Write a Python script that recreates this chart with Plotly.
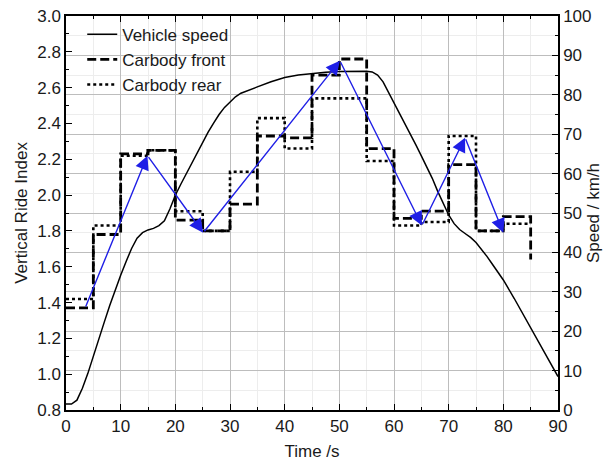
import plotly.graph_objects as go

# Vehicle speed over time (km/h)
speed_t = [0, 1, 2, 3, 4, 5, 6, 7, 8, 9, 10, 11, 12, 13, 14, 15, 16, 17, 18, 19, 20,
           21, 22, 23, 24, 25, 26, 27, 28, 29, 30, 31, 32, 33, 34, 35, 37.5, 40, 42.5,
           45, 47.5, 50, 52.5, 55, 56, 57, 58, 59, 60, 61, 62, 63, 64, 65, 66, 67, 68,
           69, 70, 71, 72, 73, 74, 75, 76, 77, 78, 79, 80, 82, 84, 86, 88, 90]
speed_v = [1.5, 1.5, 2.5, 5.5, 9.3, 13.8, 18, 22.3, 26.5, 30.5, 34.2, 37.7, 41, 43.6, 45,
           45.7, 46.1, 46.8, 48, 51, 54.5, 57.3, 60, 62.7, 65.4, 68, 70.5, 72.8, 75, 76.8,
           78.2, 79.5, 80.4, 81, 81.5, 82, 83.3, 84.4, 85, 85.4, 85.7, 85.9, 86, 86, 85.8,
           85, 83.3, 80.7, 78, 75.5, 72.8, 70.2, 67.3, 64.5, 61.8, 58.8, 55.5, 52.3, 49.5,
           47.3, 45.8, 44.8, 43.8, 42.5, 40.8, 39, 37, 35, 33, 28.3, 23.3, 18.5, 13.5, 8.5]

# Ride index evaluated over 5 s windows
window_t = [0, 5, 10, 15, 20, 25, 30, 35, 40, 45, 50, 55, 60, 65, 70, 75, 80, 85]
front_idx = [1.37, 1.78, 2.23, 2.25, 1.86, 1.80, 1.95, 2.33, 2.32, 2.67, 2.76, 2.26,
             1.87, 1.91, 2.17, 1.80, 1.88, 1.64]
rear_idx = [1.42, 1.83, 2.22, 2.25, 1.91, 1.80, 2.13, 2.43, 2.26, 2.54, 2.54, 2.19,
            1.83, 1.85, 2.33, 1.80, 1.84, 1.84]

# Trend path of the ride index
trend_t = [3.5, 14.9, 25.1, 50.1, 65.1, 73.0, 80.0]
trend_v = [1.37, 2.22, 1.79, 2.75, 1.83, 2.32, 1.79]

FONT = "Liberation Sans, Arial, sans-serif"
FS = 17

fig = go.Figure()

fig.add_trace(go.Scatter(
    x=speed_t, y=speed_v, name="Vehicle speed", yaxis="y2", mode="lines",
    line=dict(color="black", width=1.5), legendrank=1))
fig.add_trace(go.Scatter(
    x=window_t, y=front_idx, name="Carbody front", mode="lines", line_shape="hv",
    line=dict(color="black", width=2.8, dash="9px,4px"), legendrank=2))
fig.add_trace(go.Scatter(
    x=window_t, y=rear_idx, name="Carbody rear", mode="lines", line_shape="hv",
    line=dict(color="black", width=2.6, dash="dot"), legendrank=3))

for i in range(len(trend_t) - 1):
    fig.add_annotation(
        x=trend_t[i + 1], y=trend_v[i + 1], ax=trend_t[i], ay=trend_v[i],
        xref="x", yref="y", axref="x", ayref="y", text="", showarrow=True,
        arrowhead=2, arrowsize=2.0, arrowwidth=1.4, arrowcolor="#1f1fe6",
        standoff=0, startstandoff=0)

axis_common = dict(
    showline=True, linecolor="black", linewidth=1.5, ticks="inside",
    tickcolor="black", ticklen=6, tickwidth=1, automargin=False,
    tickfont=dict(family=FONT, size=FS, color="#1a1a1a"),
    title_font=dict(family=FONT, size=FS, color="#1a1a1a"), zeroline=False)

fig.update_layout(
    width=603, height=467,
    margin=dict(l=66, r=45, t=16, b=57),
    paper_bgcolor="white", plot_bgcolor="white",
    font=dict(family=FONT, size=FS, color="#1a1a1a"),
    showlegend=True,
    legend=dict(x=0.033, y=0.998, xanchor="left", yanchor="top",
                bgcolor="rgba(0,0,0,0)", font=dict(family=FONT, size=FS),
                itemwidth=30, tracegroupgap=0),
    xaxis=dict(range=[0, 90], tickvals=[0, 10, 20, 30, 40, 50, 60, 70, 80, 90],
               title=dict(text="Time /s", standoff=10), mirror="ticks",
               showgrid=True, gridcolor="#bdbdbd", gridwidth=1,
               minor=dict(dtick=5, ticks="inside", ticklen=3, tickcolor="black",
                          showgrid=True, gridcolor="#ededed"),
               **axis_common),
    yaxis=dict(range=[0.8, 3.0], dtick=0.2, tickformat=".1f",
               title=dict(text="Vertical Ride Index", standoff=5),
               showgrid=False,
               minor=dict(dtick=0.1, ticks="inside", ticklen=3, tickcolor="black"),
               **axis_common),
    yaxis2=dict(range=[0, 100], dtick=10, overlaying="y", side="right",
                title=dict(text="Speed / km/h", standoff=5),
                showgrid=True, gridcolor="#bdbdbd", gridwidth=1,
                minor=dict(dtick=5, ticks="inside", ticklen=3, tickcolor="black",
                           showgrid=True, gridcolor="#ededed"),
                **axis_common),
)

fig.write_html("out.html")
